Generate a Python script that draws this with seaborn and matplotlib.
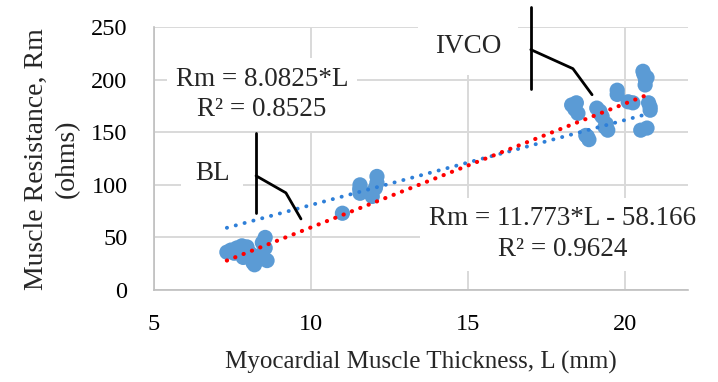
import matplotlib
matplotlib.use("Agg")
import matplotlib.pyplot as plt
import seaborn as sns
import numpy as np
import pandas as pd

# ---- data ----
bl_L = [7.32, 7.45, 7.64, 7.8, 7.96, 8.06, 8.15, 8.2, 8.38, 8.54, 8.54, 8.6, 7.84, 8.3,
        7.55, 7.7, 8.45, 8.25]
bl_R = [36, 38, 40, 42, 41, 35, 26, 24, 33, 50, 40, 28, 31, 30,
        35, 37, 45, 28]
mid_L = [11.0, 11.56, 11.56, 11.95, 12.1, 12.1, 12.05, 11.55, 11.9]
mid_R = [73, 100, 92, 89, 108, 102, 97, 96, 92]
ivco_L = [18.3, 18.45, 18.5, 19.1, 19.2, 19.27, 19.36, 19.45, 18.8, 18.85,
          19.75, 19.75, 20.1, 20.25, 20.57, 20.65, 20.7, 20.64, 20.8, 20.8,
          20.5, 20.7, 18.4, 19.2, 20.6, 20.75, 18.75, 19.4]
ivco_R = [176, 178, 168, 173, 168, 165, 155, 152, 146, 143,
          190, 186, 179, 178, 208, 200, 202, 195, 174, 171,
          152, 154, 172, 170, 205, 178, 147, 158]

# trendline coefficients (from the chart's equations)
blue_slope, blue_icpt = 8.0825, 0.0
red_slope, red_icpt = 11.773, -58.166

x_ticks = [5, 10, 15, 20]
y_ticks = [0, 50, 100, 150, 200, 250]

eq_blue = "Rm = 8.0825*L\nR² = 0.8525"
eq_red = "Rm = 11.773*L - 58.166\nR² = 0.9624"

df = pd.DataFrame({"L": bl_L + mid_L + ivco_L, "R": bl_R + mid_R + ivco_R})

sns.set_theme(style="white")
plt.rcParams["font.family"] = ["Liberation Serif", "DejaVu Serif"]

fig = plt.figure(figsize=(7.18, 3.82), dpi=100)
ax = fig.add_axes([0.2145, 0.2408, 0.958 - 0.2145, 0.929 - 0.2408])

ax.set_xlim(5, 22)
ax.set_ylim(0, 250)
ax.set_xticks(x_ticks)
ax.set_yticks(y_ticks)
ax.grid(True, color="#D9D9D9", linewidth=1.4, zorder=0)
ax.set_axisbelow(True)

for s in ["top", "right"]:
    ax.spines[s].set_visible(False)
for s in ["left", "bottom"]:
    ax.spines[s].set_color("#BFBFBF")
    ax.spines[s].set_linewidth(1.2)

sns.scatterplot(data=df, x="L", y="R", ax=ax, s=120, color="#5B9BD5",
                edgecolor="none", linewidth=0, zorder=3, legend=False)

xs = np.array([df["L"].min(), df["L"].max()])
ax.plot(xs, blue_slope * xs + blue_icpt, color="#2E7FD8", linewidth=2.8,
        linestyle=(0, (0.05, 2.3)), dash_capstyle="round", zorder=4)
ax.plot(xs, red_slope * xs + red_icpt, color="#FF0000", linewidth=3.0,
        linestyle=(0, (0.05, 2.1)), dash_capstyle="round", zorder=5)

ax.tick_params(axis="both", which="both", length=0, labelsize=17.5, colors="#000000")
ax.tick_params(axis="x", pad=17)
ax.tick_params(axis="y", pad=19)

ax.set_xlabel("Myocardial Muscle Thickness, L (mm)", fontsize=18, labelpad=12)
ax.set_ylabel("Muscle Resistance, Rm\n(ohms)", fontsize=20, labelpad=8,
              linespacing=1.3)

box = dict(facecolor="white", edgecolor="none", pad=6)
ax.text(8.44, 186, eq_blue, fontsize=19.5, ha="center", va="center",
        linespacing=1.3, bbox=box, zorder=2)
ax.text(18.0, 53, eq_red, fontsize=19.5, ha="center", va="center",
        linespacing=1.3, bbox=box, zorder=2)
ax.text(6.85, 111, "BL", fontsize=19.5, ha="center", va="center",
        bbox=dict(facecolor="white", edgecolor="none", pad=10), zorder=2)
ax.text(15.0, 232, "IVCO", fontsize=19.5, ha="center", va="center",
        bbox=dict(facecolor="white", edgecolor="none", pad=12), zorder=2)

# callout leader lines
ax.plot([8.25, 8.25], [149.5, 73.3], color="black", lw=2, zorder=6, clip_on=False)
ax.plot([8.25, 9.2, 9.68], [108.6, 92.4, 67.6], color="black", lw=2, zorder=6, clip_on=False)
ax.plot([17.0, 17.0], [269.5, 191], color="black", lw=2, zorder=6, clip_on=False)
ax.plot([17.0, 18.34, 18.95], [228.6, 210.5, 185.7], color="black", lw=2, zorder=6, clip_on=False)

fig.savefig("out.png", dpi=100)
